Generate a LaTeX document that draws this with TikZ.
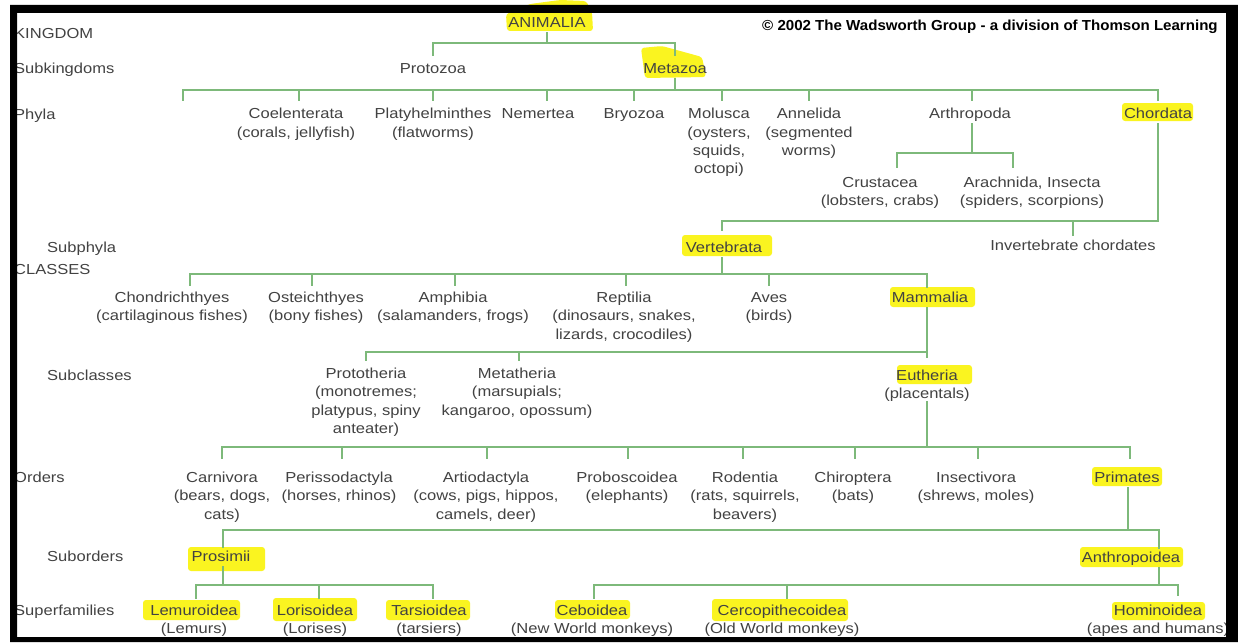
\documentclass[tikz,border=0pt]{standalone}
\usepackage{fontspec}
\setmainfont{Liberation Sans}[FakeStretch=1.14]
\newfontfamily\creditfont{Liberation Sans}[FakeStretch=1.04]
\usetikzlibrary{calc}

\definecolor{linkgreen}{RGB}{125,185,122}
\definecolor{inkgray}{RGB}{66,66,66}
\definecolor{marker}{RGB}{250,244,32}

% bar tick from a bar level down to a node (xshift moves the tick off the text centre)
\newcommand\stemto[4]{%
  \path ([xshift=#2]#1.north) coordinate (#1-t);
  \draw[link, shorten >=#4] (#1-t |- #3) -- (#1-t);}

\tikzset{
  taxon/.style={font=\fontsize{14.5}{18.3}\selectfont, text=inkgray, align=center,
                inner sep=0pt, anchor=north, yshift=7.6pt},
  rank/.style={taxon, anchor=north west, align=left},
  link/.style={draw=linkgreen, line width=2.6pt, line cap=rect},
  hl/.style={fill=marker, rounded corners=3pt},
}

\begin{document}
\begin{tikzpicture}[x=1pt,y=-1pt]
\path[use as bounding box, fill=white] (0,0) rectangle (1238,642);

% ---- highlighter strokes ----
\fill[hl] (507,31) -- (506,14) -- (530,4) -- (560,0) -- (586,1) -- (592,12) -- (593,31) -- cycle;
\fill[hl] (641,48) -- (662,46) -- (702,57) -- (706,77) -- (645,78) -- cycle;
\fill[hl] (1122,103) rectangle (1193,121);
\fill[hl] (682,235) rectangle (772,256);
\fill[hl] (890,287) rectangle (975,307);
\fill[hl] (897,365) rectangle (972,384);
\fill[hl] (1092,467) rectangle (1162,486);
\fill[hl] (188,547) rectangle (265,571);
\fill[hl] (1080,547) rectangle (1183,567);
\fill[hl] (143,600) rectangle (240,620);
\fill[hl] (273,598) rectangle (357,621);
\fill[hl] (386,600) rectangle (470,620);
\fill[hl] (555,600) rectangle (630,619);
\fill[hl] (712,599) rectangle (848,621);
\fill[hl] (1112,602) rectangle (1205,620);

% ---- rank labels ----
\node[rank] (rk1) at (14,33)  {\strut KINGDOM};
\node[rank] (rk2) at (14,68)  {\strut Subkingdoms};
\node[rank] (rk3) at (14,114) {\strut Phyla};
\node[rank] (rk4) at (47,247) {\strut Subphyla};
\node[rank] (rk5) at (14,269) {\strut CLASSES};
\node[rank] (rk6) at (47,375) {\strut Subclasses};
\node[rank] (rk7) at (14,477) {\strut Orders};
\node[rank] (rk8) at (47,556) {\strut Suborders};
\node[rank] (rk9) at (14,610) {\strut Superfamilies};

\node[rank, font=\creditfont\bfseries\fontsize{14.5}{18.3}\selectfont, text=black]
  (credit) at (762,25) {\strut \textcopyright\ 2002 The Wadsworth Group - a division of Thomson Learning};

% ---- taxa ----
\node[taxon] (animalia) at (547,22) {\strut ANIMALIA};
\node[taxon] (protozoa) at (433,68) {\strut Protozoa};
\node[taxon] (metazoa)  at (675,68) {\strut Metazoa};

\node[taxon] (coel)  at (296,113.5)  {\strut Coelenterata\\(corals, jellyfish)};
\node[taxon] (platy) at (433,113.5)  {\strut Platyhelminthes\\(flatworms)};
\node[taxon] (nemer) at (538,113.5)  {\strut Nemertea};
\node[taxon] (bryo)  at (634,113.5)  {\strut Bryozoa};
\node[taxon] (mol)   at (719,113.5)  {\strut Molusca\\(oysters,\\squids,\\octopi)};
\node[taxon] (ann)   at (809,113.5)  {\strut Annelida\\(segmented\\worms)};
\node[taxon] (arth)  at (970,113.5)  {\strut Arthropoda};
\node[taxon] (chord) at (1158,113.5) {\strut Chordata};

\node[taxon] (crus)  at (880,182)  {\strut Crustacea\\(lobsters, crabs)};
\node[taxon] (arach) at (1032,182) {\strut Arachnida, Insecta\\(spiders, scorpions)};

\node[taxon] (vert)  at (724,247)  {\strut Vertebrata};
\node[taxon] (invch) at (1073,245) {\strut Invertebrate chordates};

\node[taxon] (chond) at (172,297) {\strut Chondrichthyes\\(cartilaginous fishes)};
\node[taxon] (oste)  at (316,297) {\strut Osteichthyes\\(bony fishes)};
\node[taxon] (amph)  at (453,297) {\strut Amphibia\\(salamanders, frogs)};
\node[taxon] (rept)  at (624,297) {\strut Reptilia\\(dinosaurs, snakes,\\lizards, crocodiles)};
\node[taxon] (aves)  at (769,297) {\strut Aves\\(birds)};
\node[taxon] (mamm)  at (930,297) {\strut Mammalia};

\node[taxon] (proto) at (366,373) {\strut Prototheria\\(monotremes;\\platypus, spiny\\anteater)};
\node[taxon] (meta)  at (517,373) {\strut Metatheria\\(marsupials;\\kangaroo, opossum)};
\node[taxon] (euth)  at (927,375) {\strut Eutheria\\(placentals)};

\node[taxon] (carn)   at (222,477)  {\strut Carnivora\\(bears, dogs,\\cats)};
\node[taxon] (peri)   at (339,477)  {\strut Perissodactyla\\(horses, rhinos)};
\node[taxon] (artio)  at (486,477)  {\strut Artiodactyla\\(cows, pigs, hippos,\\camels, deer)};
\node[taxon] (probo)  at (627,477)  {\strut Proboscoidea\\(elephants)};
\node[taxon] (rod)    at (745,477)  {\strut Rodentia\\(rats, squirrels,\\beavers)};
\node[taxon] (chiro)  at (853,477)  {\strut Chiroptera\\(bats)};
\node[taxon] (insect) at (976,477)  {\strut Insectivora\\(shrews, moles)};
\node[taxon] (prim)   at (1127,477) {\strut Primates};

\node[taxon] (pros) at (221,556)  {\strut Prosimii};
\node[taxon] (anth) at (1131,557) {\strut Anthropoidea};

\node[taxon] (lemur) at (194,610)  {\strut Lemuroidea\\(Lemurs)};
\node[taxon] (loris) at (315,610)  {\strut Lorisoidea\\(Lorises)};
\node[taxon] (tars)  at (429,610)  {\strut Tarsioidea\\(tarsiers)};
\node[taxon] (cebo)  at (592,610)  {\strut Ceboidea\\(New World monkeys)};
\node[taxon] (cerco) at (782,610)  {\strut Cercopithecoidea\\(Old World monkeys)};
\node[taxon] (homi)  at (1158,610) {\strut Hominoidea\\(apes and humans)};

% ---- bar levels ----
\coordinate (kbar)   at (0,43);
\coordinate (phybar) at (0,90);
\coordinate (arbar)  at (0,153);
\coordinate (subbar) at (0,221);
\coordinate (clsbar) at (0,274);
\coordinate (scbar)  at (0,352);
\coordinate (ordbar) at (0,447);
\coordinate (sobar)  at (0,530);
\coordinate (sfbar)  at (0,585);
\coordinate (phyfree) at (183,100);

% ---- subkingdoms ----
\draw[link] (animalia.south) -- (animalia.south |- kbar);
\stemto{protozoa}{0pt}{kbar}{5.4pt}
\stemto{metazoa}{0pt}{kbar}{5.4pt}
\draw[link] (protozoa-t |- kbar) -- (metazoa-t |- kbar);

% ---- phyla ----
\draw[link] (metazoa.south) -- (metazoa.south |- phybar);
\foreach \n/\dx in {coel/3pt, platy/0pt, nemer/9pt, bryo/0pt, mol/3pt, ann/0pt, arth/2pt, chord/0pt}
  {\stemto{\n}{\dx}{phybar}{6pt}}
\draw[link] (phyfree) -- (phyfree |- phybar) -- (chord-t |- phybar);

% ---- arthropods ----
\draw[link] ([xshift=2pt]arth.south) -- ([xshift=2pt]arth.south |- arbar);
\stemto{crus}{17pt}{arbar}{7.4pt}
\stemto{arach}{-19pt}{arbar}{7.4pt}
\draw[link] (crus-t |- arbar) -- (arach-t |- arbar);

% ---- subphyla ----
\stemto{vert}{-2pt}{subbar}{9.4pt}
\stemto{invch}{0pt}{subbar}{2.4pt}
\draw[link] (chord.south) |- (vert-t |- subbar);

% ---- classes ----
\draw[link] ([xshift=-2pt]vert.south) -- ([xshift=-2pt]vert.south |- clsbar);
\foreach \n/\dx in {chond/18pt, oste/-4pt, amph/2pt, rept/2pt, aves/0pt}
  {\stemto{\n}{\dx}{clsbar}{4.4pt}}
\stemto{mamm}{-3pt}{clsbar}{2.4pt}
\draw[link] (chond-t |- clsbar) -- (mamm-t |- clsbar);

% ---- subclasses ----
\draw[link] ([xshift=-3pt]mamm.south) -- ([xshift=-3pt]mamm.south |- scbar);
\stemto{proto}{0pt}{scbar}{5.4pt}
\stemto{meta}{2pt}{scbar}{5.4pt}
\stemto{euth}{0pt}{scbar}{10.4pt}
\draw[link] (proto-t |- scbar) -- (euth-t |- scbar);

% ---- orders ----
\draw[link] (euth.south) -- (euth.south |- ordbar);
\foreach \n/\dx in {carn/0pt, peri/3pt, artio/1pt, probo/1pt, rod/-2pt, chiro/2pt, insect/2pt, prim/3pt}
  {\stemto{\n}{\dx}{ordbar}{11.4pt}}
\draw[link] (carn-t |- ordbar) -- (prim-t |- ordbar);

% ---- suborders ----
\draw[link] ([xshift=1pt]prim.south) -- ([xshift=1pt]prim.south |- sobar);
\stemto{pros}{2pt}{sobar}{1.4pt}
\stemto{anth}{28pt}{sobar}{1.4pt}
\draw[link] (pros-t |- sobar) -- (anth-t |- sobar);

% ---- superfamilies ----
\draw[link] ([xshift=2pt]pros.south) -- ([xshift=2pt]pros.south |- sfbar);
\foreach \n/\dx in {lemur/2pt, loris/4pt, tars/4pt}
  {\stemto{\n}{\dx}{sfbar}{4.4pt}}
\draw[link] (lemur-t |- sfbar) -- (tars-t |- sfbar);

\draw[link] ([xshift=28pt]anth.south) -- ([xshift=28pt]anth.south |- sfbar);
\stemto{cebo}{2pt}{sfbar}{4.4pt}
\stemto{cerco}{5pt}{sfbar}{4.4pt}
\stemto{homi}{20pt}{sfbar}{7.4pt}
\draw[link] (cebo-t |- sfbar) -- (homi-t |- sfbar);

% ---- frame ----
\fill[black, even odd rule] (10,5) rectangle (1238,642) (17,13) rectangle (1226,637);
\end{tikzpicture}
\end{document}
